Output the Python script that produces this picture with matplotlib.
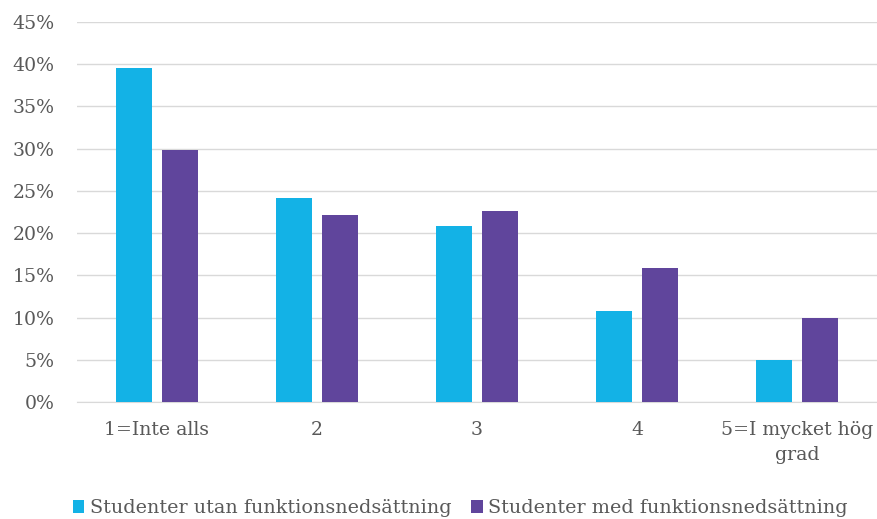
import matplotlib.pyplot as plt
import numpy as np

categories = ['1=Inte alls', '2', '3', '4', '5=I mycket hög\ngrad']
utan = [39.6, 24.1, 20.8, 10.8, 5.0]
med = [29.8, 22.1, 22.6, 15.9, 9.9]
series_names = ['Studenter utan funktionsnedsättning', 'Studenter med funktionsnedsättning']

plt.rcParams['font.family'] = ['DejaVu Serif']

fig = plt.figure(figsize=(8.77, 5.19), dpi=100)
ax = fig.add_axes([77 / 877, 1 - 402 / 519, 800 / 877, 380 / 519])

x = np.arange(len(categories))
w = 0.225
ax.bar(x - 0.143, utan, w, color='#13B2E6', label=series_names[0], zorder=3)
ax.bar(x + 0.143, med, w, color='#60459C', label=series_names[1], zorder=3)

ax.set_xlim(-0.5, len(categories) - 0.5)
ax.set_ylim(0, 45)
ax.set_yticks(range(0, 46, 5))
ax.set_yticklabels([f'{v}%' for v in range(0, 46, 5)])
ax.set_xticks(x)
ax.set_xticklabels(categories, linespacing=1.45)
ax.yaxis.grid(True, color='#D9D9D9', linewidth=1, zorder=0)
for s in ['top', 'right', 'left']:
    ax.spines[s].set_visible(False)
ax.spines['bottom'].set_color('#D9D9D9')
ax.tick_params(axis='both', length=0, colors='#595959', labelsize=13.6)
ax.tick_params(axis='y', pad=16)
ax.tick_params(axis='x', pad=14)

fig.legend(loc='lower center', bbox_to_anchor=(0.525, -0.03), ncol=2, frameon=False,
           fontsize=13.8, labelcolor='#595959', handlelength=0.6, handleheight=0.6,
           handletextpad=0.3, columnspacing=1.0)

fig.savefig('out.png', dpi=100)
